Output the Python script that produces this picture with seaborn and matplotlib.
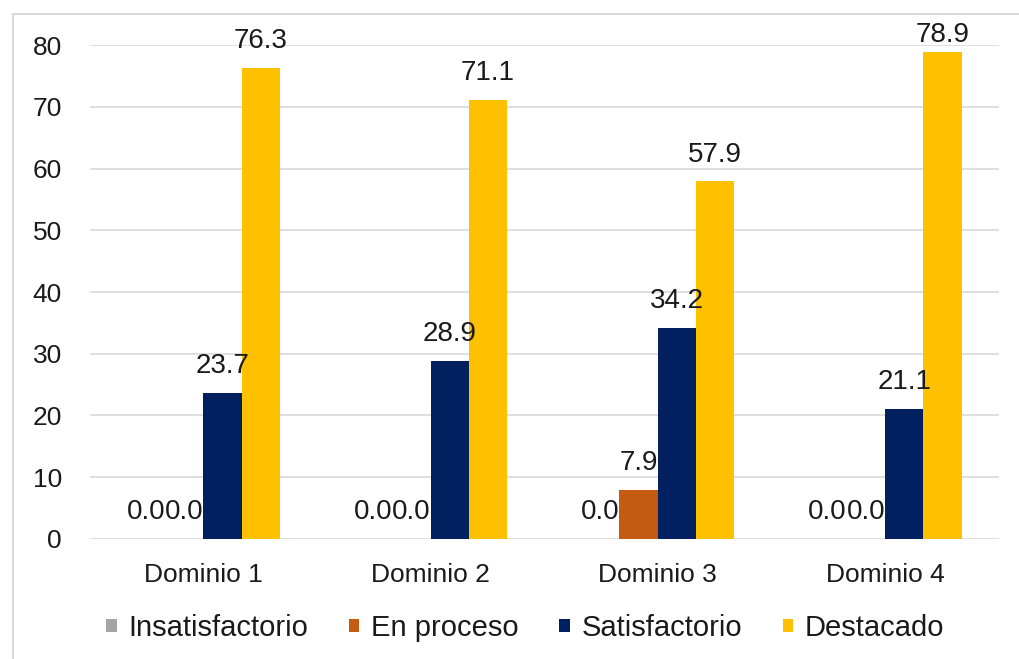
import matplotlib
matplotlib.use("Agg")
import matplotlib.pyplot as plt
import seaborn as sns
import pandas as pd
from matplotlib.lines import Line2D

categories = ["Dominio 1", "Dominio 2", "Dominio 3", "Dominio 4"]
series_names = ["Insatisfactorio", "En proceso", "Satisfactorio", "Destacado"]
insatisfactorio = [0.0, 0.0, 0.0, 0.0]
en_proceso = [0.0, 0.0, 7.9, 0.0]
satisfactorio = [23.7, 28.9, 34.2, 21.1]
destacado = [76.3, 71.1, 57.9, 78.9]
colors = ["#A5A5A5", "#C55A11", "#002060", "#FFC000"]
yticks = [0, 10, 20, 30, 40, 50, 60, 70, 80]

rows = []
for name, vals in zip(series_names, [insatisfactorio, en_proceso, satisfactorio, destacado]):
    for c, v in zip(categories, vals):
        rows.append({"Dominio": c, "Nivel": name, "Valor": v})
df = pd.DataFrame(rows)

sns.set_theme(style="white")
plt.rcParams["font.family"] = ["Liberation Sans", "DejaVu Sans"]
text_color = "#1a1a1a"

fig = plt.figure(figsize=(10.2, 6.59), dpi=100)
ax = fig.add_axes([0.088, 0.1821, 0.891, 0.7496])

sns.barplot(data=df, x="Dominio", y="Valor", hue="Nivel", order=categories,
            hue_order=series_names, palette=colors, width=0.675, saturation=1,
            edgecolor="none", linewidth=0, ax=ax, legend=True)

for cont in ax.containers:
    anns = ax.bar_label(cont, fmt="%.1f", padding=10, fontsize=20, color=text_color, clip_on=False)
    for ann, rect in zip(anns, cont):
        # labels near the top are pushed down to stay inside the chart area
        if rect.get_height() > 77:
            ann.xyann = (0, 3)

ax.set_ylim(0, 80)
ax.set_xlim(-0.5, 3.5)
ax.set_yticks(yticks)
ax.set_xlabel("")
ax.set_ylabel("")
ax.yaxis.grid(True, color="#D9D9D9", linewidth=1.2)
ax.set_axisbelow(True)
for s in ax.spines.values():
    s.set_visible(False)
ax.tick_params(axis="y", length=0, pad=20, labelsize=19, labelcolor=text_color)
ax.tick_params(axis="x", length=0, pad=17, labelsize=19, labelcolor=text_color)

handles, labels = ax.get_legend_handles_labels()
ax.get_legend().remove()
fig.legend(handles, labels, loc="center", bbox_to_anchor=(0.515, 0.047), ncol=4,
           frameon=False, fontsize=21, handlelength=0.35, handleheight=0.35,
           handletextpad=0.4, columnspacing=1.4, labelcolor=text_color)

# light frame lines (top and left) as in the reference image
fig.add_artist(Line2D([13/1020, 13/1020], [0, 1 - 14/659], transform=fig.transFigure,
                      color="#D9D9D9", linewidth=1.5))
fig.add_artist(Line2D([13/1020, 1], [1 - 14/659, 1 - 14/659], transform=fig.transFigure,
                      color="#D9D9D9", linewidth=1.5))

fig.savefig("out.png", dpi=100, facecolor="white")
